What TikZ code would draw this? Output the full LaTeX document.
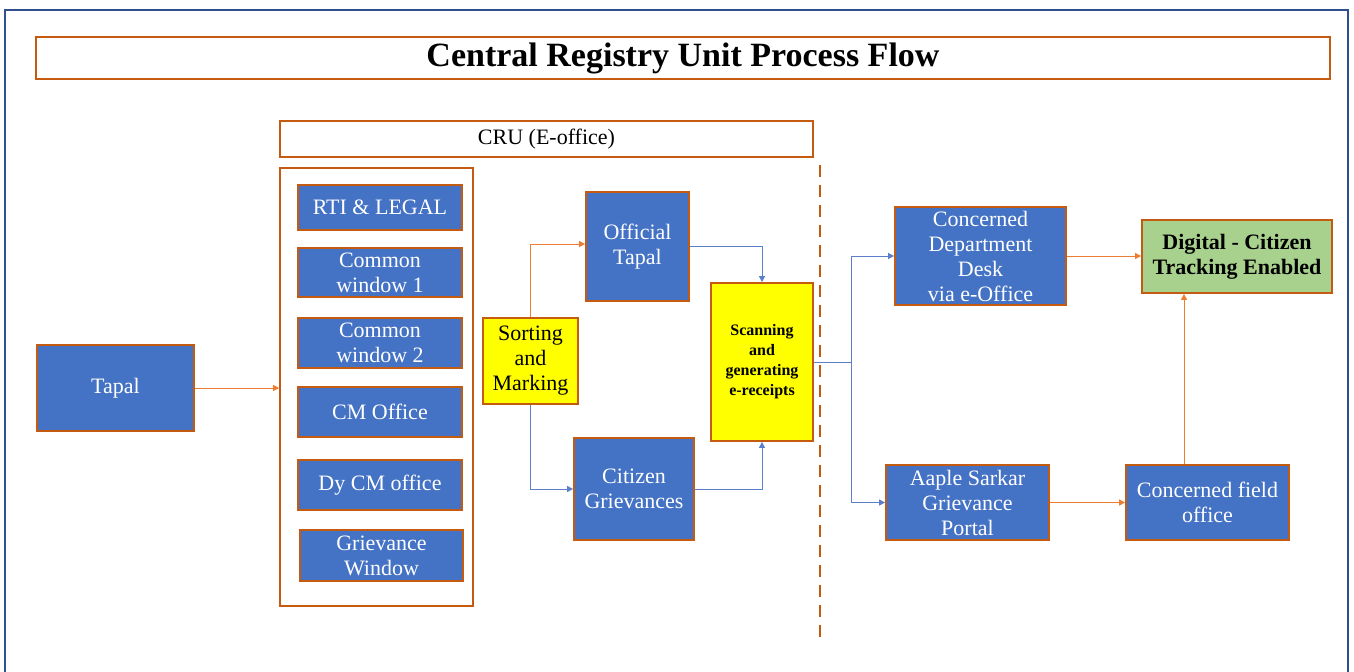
\documentclass[tikz,border=0pt]{standalone}
\usepackage{fontspec}
\setmainfont{Liberation Serif}
\usepackage{tikz}
\usetikzlibrary{positioning,arrows.meta}
\definecolor{BoxBlue}{HTML}{4472C4}
\definecolor{EdgeOrange}{HTML}{C55A11}
\definecolor{LineOrange}{HTML}{ED7D31}
\definecolor{LineBlue}{HTML}{5B7FC9}
\definecolor{FrameBlue}{HTML}{2F4F8F}
\definecolor{MarkYellow}{HTML}{FFFF00}
\definecolor{DoneGreen}{HTML}{A9D18E}

\begin{document}
\begin{tikzpicture}[x=0.5pt, y=-0.5pt,
    every node/.style={font=\fontsize{11}{12.5}\selectfont, align=center, inner sep=1pt},
    bluebox/.style={draw=EdgeOrange, line width=0.9pt, fill=BoxBlue, text=white},
    yellowbox/.style={draw=EdgeOrange, line width=0.9pt, fill=MarkYellow, text=black},
    framebox/.style={draw=EdgeOrange, line width=0.8pt, fill=white},
    orangeflow/.style={draw=LineOrange, line width=0.5pt, -{Triangle[width=3pt,length=3pt]}},
    blueflow/.style={draw=LineBlue, line width=0.5pt, -{Triangle[width=3pt,length=3pt]}}]
  \useasboundingbox (0,0) rectangle (1354,671);
  \fill[white] (0,0) rectangle (1354,671);
  % outer frame
  \draw[FrameBlue, line width=1pt] (5,680) -- (5,10) -- (1348,10) -- (1348,680);
  % title and CRU band
  \node[framebox, minimum width=647pt, minimum height=21pt,
        font=\fontsize{17}{20}\selectfont\bfseries] (title) at (683,58)
    {Central Registry Unit Process Flow};
  \node[framebox, minimum width=266.5pt, minimum height=18pt] (cru) at (546.5,139) {CRU (E-office)};
  \node[framebox, minimum width=96.5pt, minimum height=219pt] (windows) at (376.5,387) {};
  % windows
  \node[bluebox, minimum width=82pt, minimum height=22.5pt] (rti) at (380,207.5) {RTI \& LEGAL};
  \node[bluebox, minimum width=82pt, minimum height=24.5pt] (cw1) at (380,272.5) {Common\\window 1};
  \node[bluebox, minimum width=82pt, minimum height=25pt] (cw2) at (380,343) {Common\\window 2};
  \node[bluebox, minimum width=82pt, minimum height=25pt] (cm) at (380,412) {CM Office};
  \node[bluebox, minimum width=82pt, minimum height=25pt] (dycm) at (380,485) {Dy CM office};
  \node[bluebox, minimum width=81.5pt, minimum height=25.5pt] (gw) at (381.5,555.5) {Grievance\\Window};
  % inward
  \node[bluebox, minimum width=78.5pt, minimum height=43pt] (tapal) at (115.5,388) {Tapal};
  \node[yellowbox, minimum width=47.5pt, minimum height=43pt] (sort) at (530.5,361)
    {Sorting\\and\\Marking};
  \node[bluebox, minimum width=51.5pt, minimum height=54.5pt] (official) at (637.5,246.5)
    {Official\\Tapal};
  \node[bluebox, minimum width=60pt, minimum height=51pt] (citizen) at (634,489) {Citizen\\Grievances};
  \node[yellowbox, minimum width=51pt, minimum height=79pt,
        font=\fontsize{8}{10}\selectfont\bfseries] (scan) at (762,362)
    {Scanning\\and\\generating\\e-receipts};
  % divider
  \draw[EdgeOrange, line width=1.3pt, dash pattern=on 6pt off 4pt] (820,165) -- (820,640);
  % outward
  \node[bluebox, minimum width=85.5pt, minimum height=49pt] (dept) at (980.5,256)
    {Concerned\\Department\\Desk\\via e-Office};
  \node[draw=EdgeOrange, line width=0.9pt, fill=DoneGreen, minimum width=95pt, minimum height=36.5pt,
        font=\fontsize{11}{12.5}\selectfont\bfseries] (digital) at (1237,256.5)
    {Digital - Citizen\\Tracking Enabled};
  \node[bluebox, minimum width=81.5pt, minimum height=37.5pt] (aaple) at (967.5,502.5)
    {Aaple Sarkar\\Grievance\\Portal};
  \node[bluebox, minimum width=81.5pt, minimum height=37.5pt] (field) at (1207.5,502.5)
    {Concerned field\\office};
  % connectors
  \draw[orangeflow] (tapal.east) -- (windows.west |- tapal.east);
  \draw[orangeflow] (sort.north) |- (official.west |- 0,244);
  \draw[blueflow] (sort.south) |- (citizen.west);
  \draw[blueflow] (official.east) -| (scan.north);
  \draw[blueflow] (citizen.east) -| (scan.south);
  \coordinate (split) at (851,362);
  \draw[LineBlue, line width=0.5pt] (scan.east) -- (split);
  \draw[blueflow] (split) |- (dept.west);
  \draw[blueflow] (split) |- (aaple.west);
  \draw[orangeflow] (dept.east) -- (digital.west |- dept.east);
  \draw[orangeflow] (aaple.east) -- (field.west);
  \draw[orangeflow] (field.north -| 1184,0) -- (digital.south -| 1184,0);
\end{tikzpicture}
\end{document}
